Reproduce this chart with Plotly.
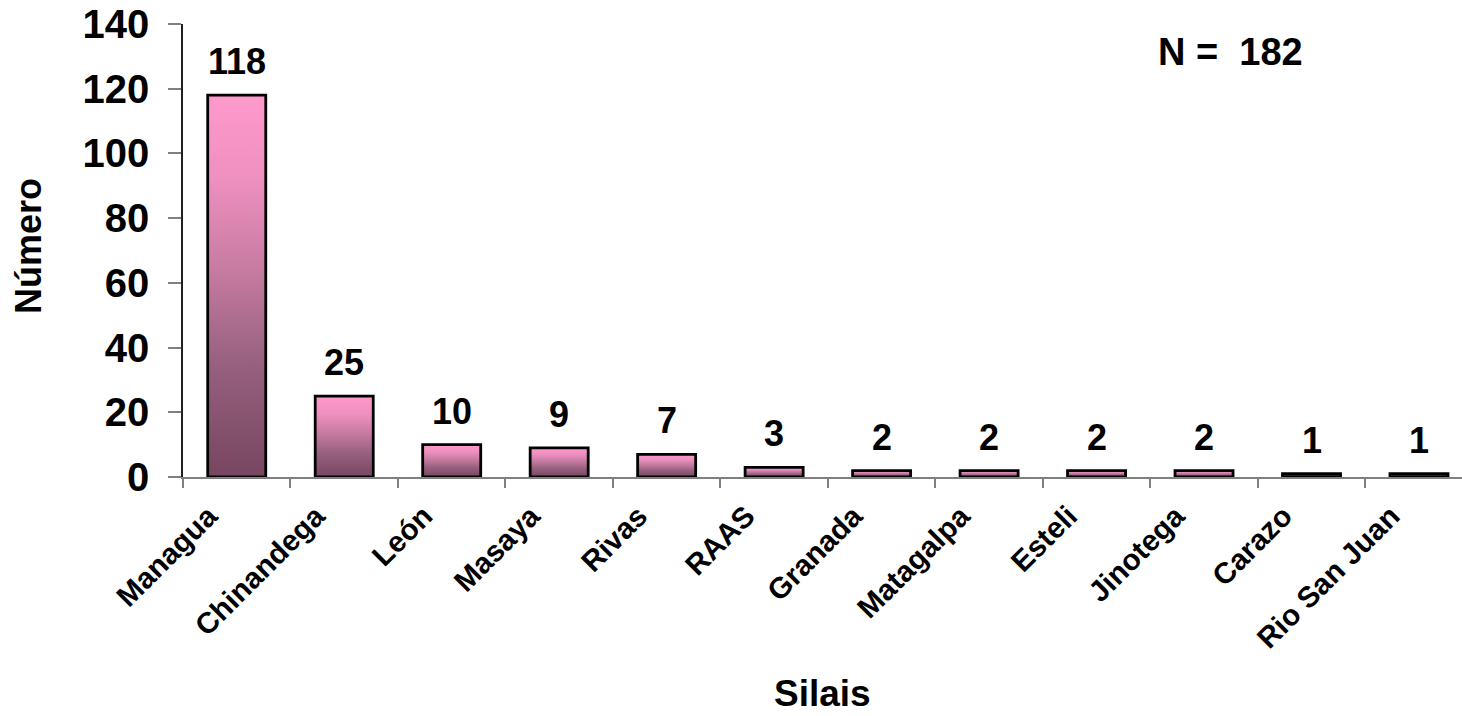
import plotly.graph_objects as go

categories = ["Managua", "Chinandega", "León", "Masaya", "Rivas", "RAAS", "Granada",
              "Matagalpa", "Esteli", "Jinotega", "Carazo", "Rio San Juan"]
values = [118, 25, 10, 9, 7, 3, 2, 2, 2, 2, 1, 1]
y_ticks = [0, 20, 40, 60, 80, 100, 120, 140]
total_label = "N =  182"
x_title = "Silais"
y_title = "Número"

FONT = "Arial, Liberation Sans, sans-serif"
half_w = 0.27
gradient = [[0.0, "#774660"], [0.3, "#97617F"], [0.55, "#C87CA2"],
            [0.78, "#EE90C0"], [1.0, "#FF99CC"]]

fig = go.Figure()
for i, (cat, v) in enumerate(zip(categories, values)):
    fig.add_trace(go.Scatter(
        x=[i - half_w, i + half_w, i + half_w, i - half_w, i - half_w],
        y=[0, 0, v, v, 0],
        mode="lines", fill="toself",
        fillgradient=dict(type="vertical", colorscale=gradient),
        line=dict(color="black", width=2.8),
        hoverinfo="skip", showlegend=False, name=cat,
    ))
    fig.add_annotation(x=i, y=v, text=f"<b>{v}</b>", showarrow=False,
                       yanchor="bottom", yshift=11,
                       font=dict(family=FONT, size=36, color="black"))

# boundary ticks axis
fig.add_trace(go.Scatter(x=[0], y=[0], xaxis="x2", mode="markers",
                         marker=dict(opacity=0), hoverinfo="skip", showlegend=False))

xr = [-0.5, 11.4]
fig.update_layout(
    width=1462, height=716,
    margin=dict(l=183, r=0, t=24, b=239),
    plot_bgcolor="white", paper_bgcolor="white",
    font=dict(family=FONT, color="black"),
    xaxis=dict(range=xr, tickvals=list(range(len(categories))),
               ticktext=[f"<b>{c}</b>" for c in categories],
               tickangle=-45, tickfont=dict(size=29.5),
               ticklabelstandoff=8, ticklabelshift=-28,
               ticks="", showgrid=False, zeroline=False, automargin=False,
               showline=True, linecolor="#808080", linewidth=2),
    xaxis2=dict(range=xr, overlaying="x", side="bottom", automargin=False,
                tickvals=[i - 0.5 for i in range(len(categories) + 1)],
                showticklabels=False, ticks="outside", ticklen=10,
                tickcolor="#808080", tickwidth=1.5, showgrid=False, zeroline=False),
    yaxis=dict(range=[0, 140], tickvals=y_ticks,
               ticktext=[f"<b>{t}</b>" for t in y_ticks],
               tickfont=dict(size=40), ticks="outside", ticklen=13,
               ticklabelstandoff=11, ticklabeloverflow="allow",
               tickcolor="#808080", tickwidth=1.5, automargin=False,
               showgrid=False, zeroline=False,
               showline=True, linecolor="#202020", linewidth=1.5),
)
fig.add_annotation(xref="paper", yref="paper", x=(1230 - 183) / (1462 - 183),
                   y=(477 - 52) / (477 - 24), text=f"<b>{total_label}</b>",
                   xanchor="center", yanchor="middle",
                   showarrow=False, font=dict(family=FONT, size=38, color="black"))
fig.add_annotation(xref="paper", yref="paper", x=0.5, y=(477 - 693) / (477 - 24),
                   text=f"<b>{x_title}</b>", xanchor="center", yanchor="middle",
                   showarrow=False, font=dict(family=FONT, size=37, color="black"))
fig.add_annotation(xref="paper", yref="paper", x=(29 - 183) / (1462 - 183),
                   y=(477 - 246) / (477 - 24), text=f"<b>{y_title}</b>", textangle=-90,
                   xanchor="center", yanchor="middle",
                   showarrow=False, font=dict(family=FONT, size=36, color="black"))

fig.write_html("out.html", config={"displayModeBar": False},
               post_script="document.body.style.margin='0';document.body.style.overflow='hidden';")
